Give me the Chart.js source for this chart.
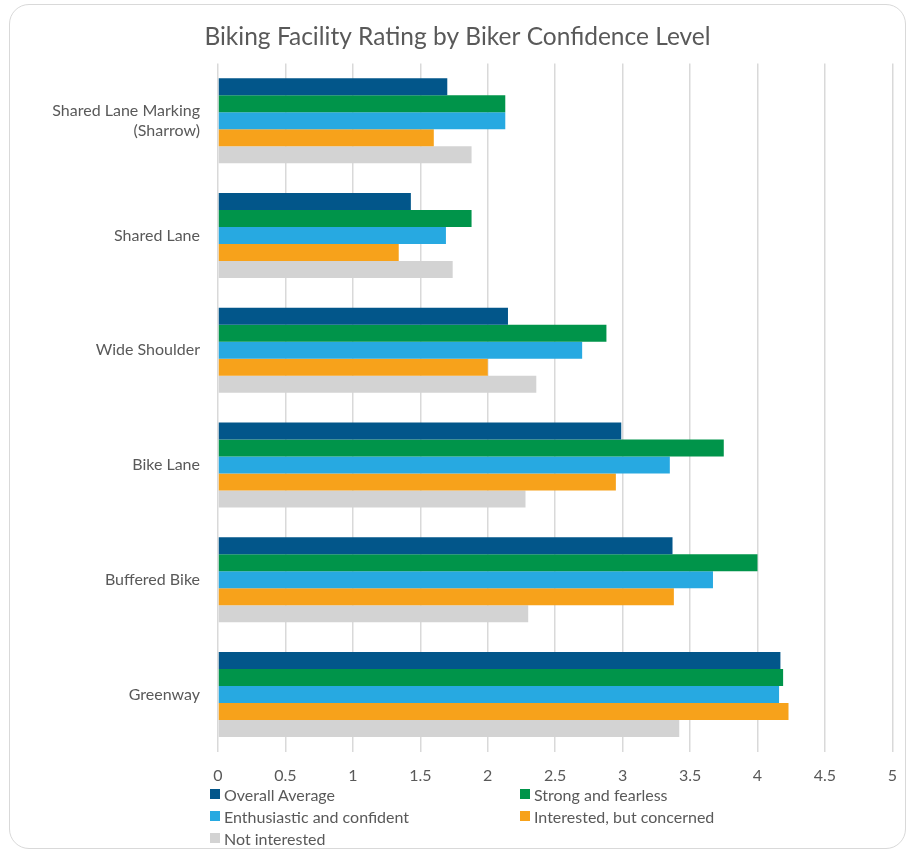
<!DOCTYPE html>
<html>
<head>
<meta charset="utf-8">
<title>Biking Facility Rating by Biker Confidence Level</title>
<script src="https://cdn.jsdelivr.net/npm/chart.js@4"></script>
<style>
  html, body { margin: 0; padding: 0; background: #fff; }
  #wrap { position: relative; width: 911px; height: 851px; overflow: hidden; }
  #card {
    position: absolute; left: 9px; top: 4px; width: 895px; height: 843px;
    border: 1.5px solid #d9d9d9; border-radius: 20px;
  }
  #ratingChart { position: absolute; left: 0; top: 0; }
  #legend {
    position: absolute; left: 210px; top: 785px; width: 640px;
    display: grid; grid-template-columns: 310px 310px; row-gap: 4px;
    font-family: Lato, sans-serif; font-size: 16px; color: #595959;
  }
  #legend .item { display: flex; align-items: center; height: 18px; }
  #legend .swatch { width: 10px; height: 10px; margin-right: 4px; }
</style>
</head>
<body>
<div id="wrap">
  <div id="card"></div>
  <canvas id="ratingChart" width="911" height="851"></canvas>
  <div id="legend"></div>
</div>
<script>
// facilities, top to bottom
const facilities = [
  ['Shared Lane Marking', '(Sharrow)'],
  'Shared Lane',
  'Wide Shoulder',
  'Bike Lane',
  'Buffered Bike',
  'Greenway'
];

const groupNames = [
  'Overall Average',
  'Strong and fearless',
  'Enthusiastic and confident',
  'Interested, but concerned',
  'Not interested'
];

// average rating per facility, one list per rider group
const overallAverage = [1.70, 1.43, 2.15, 2.99, 3.37, 4.17];
const strongFearless = [2.13, 1.88, 2.88, 3.75, 4.00, 4.19];
const enthusiastic = [2.13, 1.69, 2.70, 3.35, 3.67, 4.16];
const concerned = [1.60, 1.34, 2.00, 2.95, 3.38, 4.23];
const notInterested = [1.88, 1.74, 2.36, 2.28, 2.30, 3.42];

const xTicks = [0, 0.5, 1, 1.5, 2, 2.5, 3, 3.5, 4, 4.5, 5];

const groupColors = ['#02568A', '#00944A', '#27A9E1', '#F7A21B', '#D3D3D3'];
const groupValues = [overallAverage, strongFearless, enthusiastic, concerned, notInterested];

const textColor = '#595959';
const fontFamily = 'Lato, sans-serif';

function RatingChart() {
  const ctx = document.getElementById('ratingChart').getContext('2d');

  const data = {
    labels: facilities,
    datasets: groupNames.map(function(name, i) {
      return {
        label: name,
        data: groupValues[i],
        backgroundColor: groupColors[i],
        borderWidth: 0,
        categoryPercentage: 0.74,
        barPercentage: 1.0
      };
    })
  };

  const config = {
    type: 'bar',
    data: data,
    options: {
      indexAxis: 'y',
      responsive: false,
      animation: false,
      layout: { padding: { left: 10, right: 6, top: 0, bottom: 52 } },
      plugins: {
        legend: { display: false },
        tooltip: { enabled: false },
        title: {
          display: true,
          text: 'Biking Facility Rating by Biker Confidence Level',
          color: textColor,
          font: { family: fontFamily, size: 24.5, weight: 'normal' },
          padding: { top: 22, bottom: 12 }
        }
      },
      scales: {
        x: {
          min: 0,
          max: 5,
          afterBuildTicks: function(scale) {
            scale.ticks = xTicks.map(function(v) { return { value: v }; });
          },
          grid: { color: '#d9d9d9', lineWidth: 1.5, drawTicks: false },
          border: { display: false },
          ticks: {
            color: textColor,
            font: { family: fontFamily, size: 16 },
            padding: 14,
            callback: function(v) { return String(v); }
          }
        },
        y: {
          grid: { display: false },
          border: { display: false },
          afterFit: function(scale) { scale.width = 208; },
          ticks: {
            color: textColor,
            font: { family: fontFamily, size: 16 },
            padding: 10
          }
        }
      }
    }
  };

  new Chart(ctx, config);

  // legend in two columns under the axis
  const legend = document.getElementById('legend');
  groupNames.forEach(function(name, i) {
    const item = document.createElement('div');
    item.className = 'item';
    const swatch = document.createElement('span');
    swatch.className = 'swatch';
    swatch.style.background = groupColors[i];
    const label = document.createElement('span');
    label.textContent = name;
    item.appendChild(swatch);
    item.appendChild(label);
    legend.appendChild(item);
  });
}

RatingChart();
</script>
</body>
</html>
